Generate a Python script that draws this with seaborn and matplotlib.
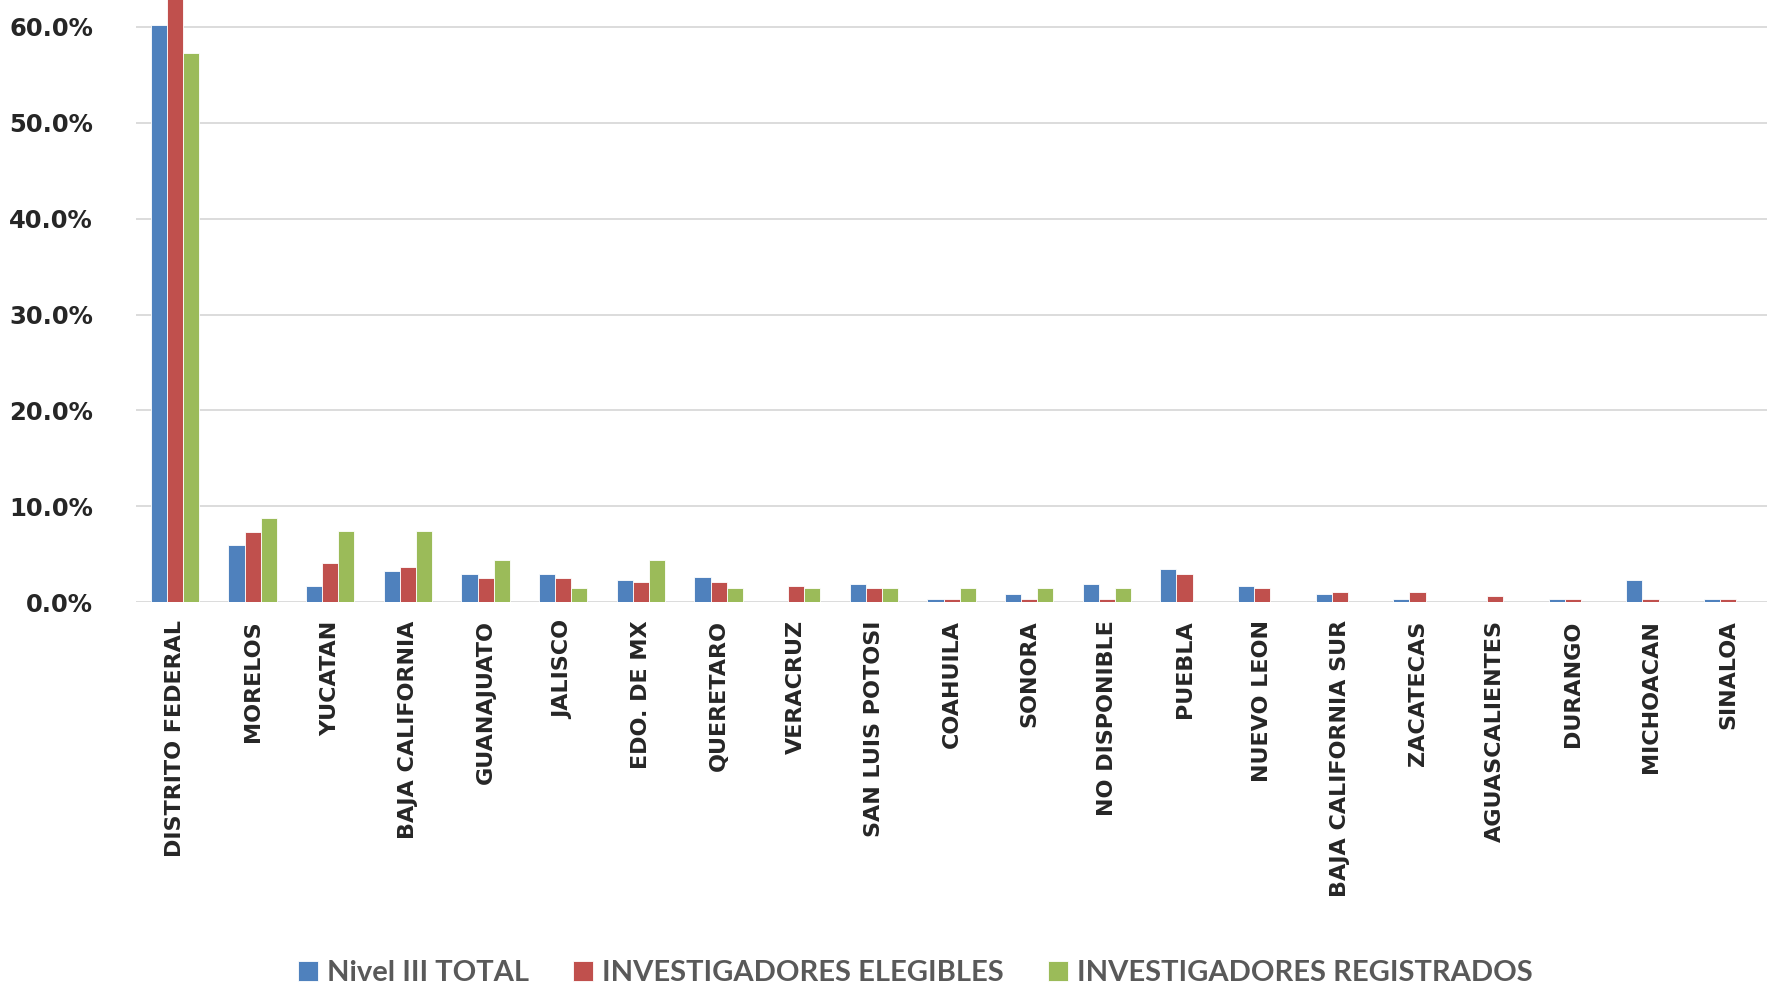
import matplotlib
matplotlib.use('Agg')
import matplotlib.pyplot as plt
import numpy as np
import pandas as pd
import seaborn as sns
from matplotlib.ticker import PercentFormatter

estados = ['DISTRITO FEDERAL', 'MORELOS', 'YUCATAN', 'BAJA CALIFORNIA', 'GUANAJUATO',
           'JALISCO', 'EDO. DE MX', 'QUERETARO', 'VERACRUZ', 'SAN LUIS POTOSI',
           'COAHUILA', 'SONORA', 'NO DISPONIBLE', 'PUEBLA', 'NUEVO LEON',
           'BAJA CALIFORNIA SUR', 'ZACATECAS', 'AGUASCALIENTES', 'DURANGO',
           'MICHOACAN', 'SINALOA']
nivel3 = [60.2, 6.0, 1.7, 3.3, 2.9, 2.9, 2.3, 2.6, 0.0, 1.9, 0.3,
          0.9, 1.9, 3.5, 1.7, 0.9, 0.3, 0.0, 0.3, 2.3, 0.3]
elegibles = [63.5, 7.3, 4.1, 3.7, 2.5, 2.5, 2.1, 2.1, 1.7, 1.5, 0.3,
             0.3, 0.3, 2.9, 1.5, 1.1, 1.1, 0.7, 0.3, 0.3, 0.3]
registrados = [57.3, 8.8, 7.4, 7.4, 4.4, 1.5, 4.4, 1.5, 1.5, 1.5, 1.5,
               1.5, 1.5, 0.0, 0.0, 0.0, 0.0, 0.0, 0.0, 0.0, 0.0]
series = ['Nivel III TOTAL', 'INVESTIGADORES ELEGIBLES', 'INVESTIGADORES REGISTRADOS']
colores = ['#4f81bd', '#c0504d', '#9bbb59']

df = pd.DataFrame({'estado': estados * 3,
                   'serie': np.repeat(series, len(estados)),
                   'valor': nivel3 + elegibles + registrados})

sns.set_style('white')
fig = plt.figure(figsize=(17.67, 9.89), dpi=100)
ax = fig.add_axes([0.077, 0.391, 0.923, 0.609])

sns.barplot(data=df, x='estado', y='valor', hue='serie', palette=colores,
            width=0.62, gap=0, saturation=1, edgecolor='white', linewidth=0.6,
            ax=ax, legend=True)

ax.set_ylim(0, 62.8)
ax.set_xlim(-0.5, len(estados) - 0.5)
ax.set_yticks(np.arange(0, 61, 10))
ax.yaxis.set_major_formatter(PercentFormatter(decimals=1))
ax.grid(axis='y', color='#d9d9d9', linewidth=1.3)
ax.set_axisbelow(True)
for s in ax.spines.values():
    s.set_visible(False)
ax.set_xlabel('')
ax.set_ylabel('')
ax.tick_params(axis='y', length=0, pad=31, labelsize=17.5)
ax.tick_params(axis='x', length=0, pad=13, labelsize=16)
for t in ax.get_yticklabels():
    t.set_fontweight('bold')
for t in ax.get_xticklabels():
    t.set_rotation(90)
    t.set_fontweight('bold')
    t.set_va('top')

handles, labels = ax.get_legend_handles_labels()
ax.get_legend().remove()
fig.legend(handles, labels, loc='center', ncol=3, frameon=False,
           bbox_to_anchor=(0.518, 0.016), handlelength=0.7, handleheight=0.7,
           handletextpad=0.3, columnspacing=1.5,
           prop={'family': 'Lato', 'size': 21, 'weight': 'bold'}, labelcolor='#595959')

plt.savefig('out.png', dpi=100)
plt.close()
